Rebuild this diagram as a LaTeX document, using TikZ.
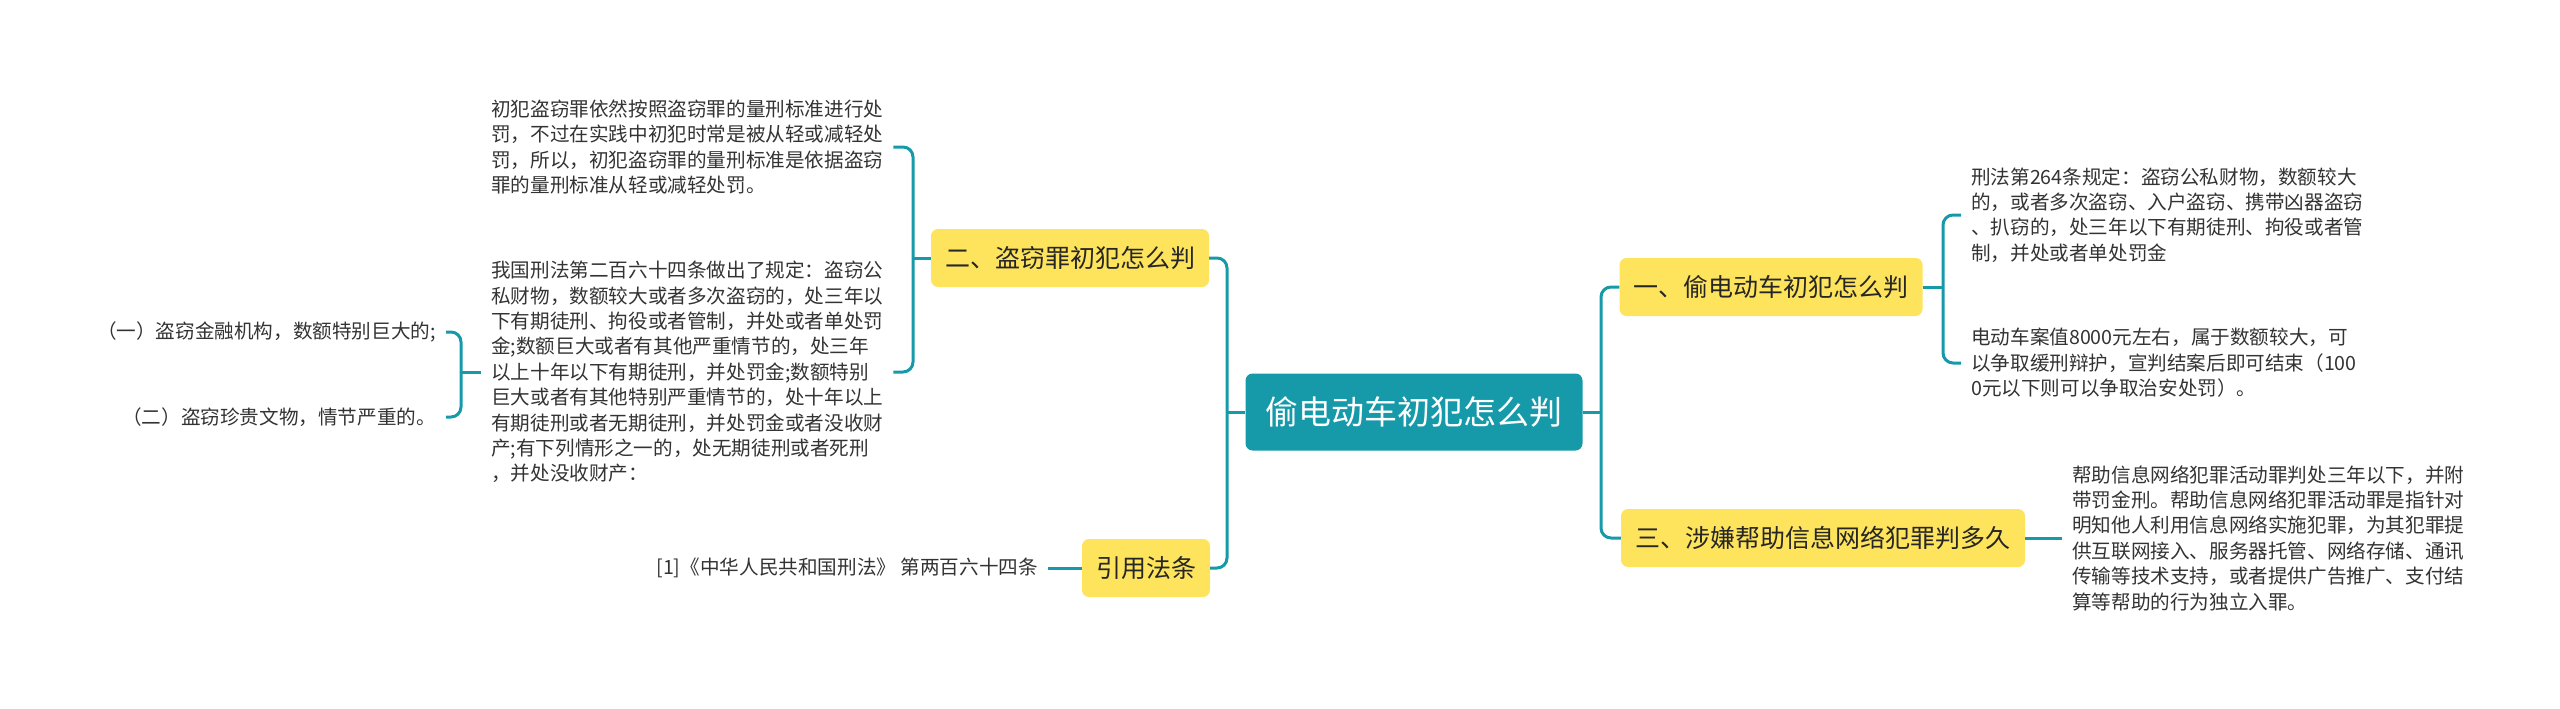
\documentclass[tikz,border=0pt]{standalone}
\usepackage{fontspec}
\setmainfont{Noto Sans CJK SC}
\usepackage{tikz}
\definecolor{mapteal}  {RGB}{ 22, 154, 170}
\definecolor{mapyellow}{RGB}{254, 228,  92}
\definecolor{mapink}   {RGB}{ 51,  51,  51}

\begin{document}
\begin{tikzpicture}[
  x=1pt,y=-1pt,
  link/.style={mapteal,line width=3pt,rounded corners=10pt},
  rootbox/.style={fill=mapteal,rounded corners=7pt,text=white,
    minimum height=77pt,font=\fontsize{33}{36}\selectfont},
  topic/.style={fill=mapyellow,rounded corners=7pt,text=black!85,
    minimum height=58pt,inner xsep=4pt,font=\fontsize{25}{28}\selectfont},
  leaf/.style={text=mapink,align=left,inner xsep=10pt,inner ysep=2pt,
    font=\fontsize{19.6}{25.4}\selectfont},
]
\useasboundingbox (0,0) rectangle (2560,709);

%% ── Root ─────────────────────────────────────────────────────────────────
\node[rootbox,minimum width=337pt] (root) at (1414,412) {偷电动车初犯怎么判};
\coordinate (rj) at (1601,412);
\coordinate (lj) at (1227,412);
\draw[link] (root.east) -- (rj);
\draw[link] (root.west) -- (lj);

%% ── Right: 一 ─────────────────────────────────────────────────────────────
\node[topic,minimum width=303pt] (b1) at (1771,287) {一、偷电动车初犯怎么判};
\draw[link] (rj) |- (b1.west);
\coordinate (j1) at (1943,287);
\draw[link] (b1.east) -- (j1);

\node[leaf,anchor=west] (l11) at (1961,215)
  {刑法第264条规定：盗窃公私财物，数额较大\\
   的，或者多次盗窃、入户盗窃、携带凶器盗窃\\
   、扒窃的，处三年以下有期徒刑、拘役或者管\\
   制，并处或者单处罚金};
\node[leaf,anchor=west] (l12) at (1961,363)
  {电动车案值8000元左右，属于数额较大，可\\
   以争取缓刑辩护，宣判结案后即可结束（100\\
   0元以下则可以争取治安处罚）。};
\draw[link] (j1) |- (l11.west);
\draw[link] (j1) |- (l12.west);

%% ── Right: 三 ─────────────────────────────────────────────────────────────
\node[topic,minimum width=404pt] (b3) at (1823,538) {三、涉嫌帮助信息网络犯罪判多久};
\draw[link] (rj) |- (b3.west);

\node[leaf,anchor=west] (l31) at (2062,538)
  {帮助信息网络犯罪活动罪判处三年以下，并附\\
   带罚金刑。帮助信息网络犯罪活动罪是指针对\\
   明知他人利用信息网络实施犯罪，为其犯罪提\\
   供互联网接入、服务器托管、网络存储、通讯\\
   传输等技术支持，或者提供广告推广、支付结\\
   算等帮助的行为独立入罪。};
\draw[link] (b3.east) -- (l31.west);

%% ── Left: 二 ──────────────────────────────────────────────────────────────
\node[topic,minimum width=278pt] (b2) at (1070,258) {二、盗窃罪初犯怎么判};
\draw[link] (lj) |- (b2.east);
\coordinate (j2) at (913,258);
\draw[link] (b2.west) -- (j2);

\node[leaf,anchor=west] (l21) at (481,147)
  {初犯盗窃罪依然按照盗窃罪的量刑标准进行处\\
   罚，不过在实践中初犯时常是被从轻或减轻处\\
   罚，所以，初犯盗窃罪的量刑标准是依据盗窃\\
   罪的量刑标准从轻或减轻处罚。};
\node[leaf,anchor=west] (l22) at (481,372)
  {我国刑法第二百六十四条做出了规定：盗窃公\\
   私财物，数额较大或者多次盗窃的，处三年以\\
   下有期徒刑、拘役或者管制，并处或者单处罚\\
   金;数额巨大或者有其他严重情节的，处三年\\
   以上十年以下有期徒刑，并处罚金;数额特别\\
   巨大或者有其他特别严重情节的，处十年以上\\
   有期徒刑或者无期徒刑，并处罚金或者没收财\\
   产;有下列情形之一的，处无期徒刑或者死刑\\
   ，并处没收财产：};
\draw[link] (j2) |- (l21.east);
\draw[link] (j2) |- (l22.east);

%% sub items of the article
\coordinate (j3) at (461,372);
\draw[link] (l22.west) -- (j3);
\node[leaf,anchor=east] (s1) at (446,332) {（一）盗窃金融机构，数额特别巨大的;};
\node[leaf,anchor=east] (s2) at (446,417) {（二）盗窃珍贵文物，情节严重的。};
\draw[link] (j3) |- (s1.east);
\draw[link] (j3) |- (s2.east);

%% ── Left: 引用法条 ────────────────────────────────────────────────────────
\node[topic,minimum width=128pt] (cite) at (1146,568) {引用法条};
\draw[link] (lj) |- (cite.east);
\node[leaf,anchor=east] (c1) at (1048,568) {[1]《中华人民共和国刑法》 第两百六十四条};
\draw[link] (cite.west) -- (c1.east);

\end{tikzpicture}
\end{document}
